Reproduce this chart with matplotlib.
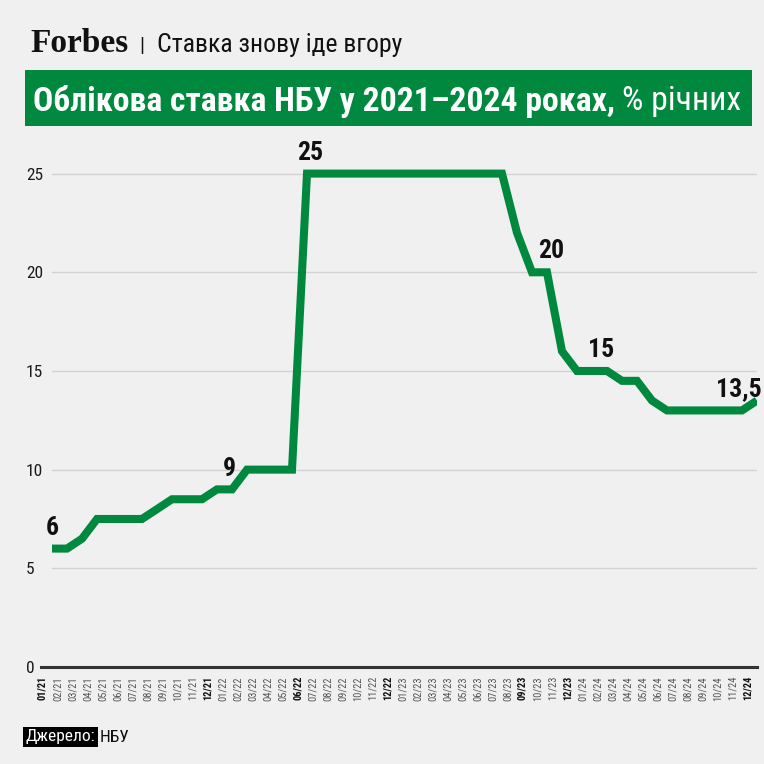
import matplotlib
matplotlib.use("Agg")
import matplotlib.pyplot as plt
import matplotlib.transforms as mtransforms
from matplotlib import font_manager as fm
from matplotlib.patches import Rectangle
import numpy as np

# ---------------- data ----------------
months = ["01/21", "02/21", "03/21", "04/21", "05/21", "06/21", "07/21", "08/21", "09/21", "10/21", "11/21", "12/21",
          "01/22", "02/22", "03/22", "04/22", "05/22", "06/22", "07/22", "08/22", "09/22", "10/22", "11/22", "12/22",
          "01/23", "02/23", "03/23", "04/23", "05/23", "06/23", "07/23", "08/23", "09/23", "10/23", "11/23", "12/23",
          "01/24", "02/24", "03/24", "04/24", "05/24", "06/24", "07/24", "08/24", "09/24", "10/24", "11/24", "12/24"]
rate = [6, 6, 6.5, 7.5, 7.5, 7.5, 7.5, 8, 8.5, 8.5, 8.5, 9,
        9, 10, 10, 10, 10, 25, 25, 25, 25, 25, 25, 25,
        25, 25, 25, 25, 25, 25, 25, 22, 20, 20, 16, 15,
        15, 15, 14.5, 14.5, 13.5, 13, 13, 13, 13, 13, 13, 13.5]
bold_months = ["01/21", "12/21", "06/22", "12/22", "09/23", "12/23", "12/24"]
callout_text = ["6", "9", "25", "20", "15", "13,5"]
callout_month = [0, 11.85, 17.2, 33.3, 36.6, 45.8]
callout_value = [6, 9, 25, 20, 15, 13]
yticks = [0, 5, 10, 15, 20, 25]

# ---------------- fonts ----------------
names = {f.name for f in fm.fontManager.ttflist}
cond = next((n for n in ["Roboto Condensed", "Liberation Sans Narrow", "Roboto", "DejaVu Sans"] if n in names), "DejaVu Sans")
plt.rcParams["font.family"] = [cond, "DejaVu Sans"]
serif = "Liberation Serif" if "Liberation Serif" in names else "DejaVu Serif"

GREEN = "#00893e"
BG = "#f0f0f0"

W = H = 764
fig = plt.figure(figsize=(7.64, 7.64), dpi=100, facecolor=BG)

def fx(px):
    return px / W

def fy(py):
    return 1 - py / H

ax = fig.add_axes([fx(52), fy(667), fx(757) - fx(52), fy(144) - fy(667)])
ax.set_facecolor(BG)
x = np.arange(len(months))
ax.plot(x, rate, color=GREEN, lw=5.8, solid_joinstyle="miter", solid_capstyle="butt", zorder=3)
ax.set_xlim(0, 46.4)
ax.set_ylim(0, 26.5)
for s in ax.spines.values():
    s.set_visible(False)

ax.set_yticks(yticks)
ax.set_yticklabels([str(v) for v in yticks])
ax.tick_params(axis="y", length=0, pad=18.7, labelsize=12.5, labelcolor="#1a1a1a")
for lbl in ax.get_yticklabels():
    lbl.set_horizontalalignment("left")
ax.grid(axis="y", color="#d2d2d2", lw=1)
ax.axhline(0, xmin=-0.016, xmax=1, color="#333333", lw=2.2, clip_on=False, zorder=4)

ax.set_xticks(x)
ax.set_xticklabels(months, rotation=90, va="top", ha="center")
ax.tick_params(axis="x", length=0, pad=6.5, labelsize=7.5)
off = mtransforms.ScaledTranslation(-9.5 / 100, 0, fig.dpi_scale_trans)
for lbl in ax.get_xticklabels():
    lbl.set_transform(lbl.get_transform() + off)
    if lbl.get_text() in bold_months:
        lbl.set_fontweight("bold")
        lbl.set_color("#111111")
    else:
        lbl.set_color("#555555")

for t, m, v in zip(callout_text, callout_month, callout_value):
    ax.annotate(t, (m, v), xytext=(0, 15), textcoords="offset points", ha="center", va="center",
                fontsize=18.5, fontweight="bold", color="#111111", zorder=5)

# ---------------- header ----------------
fig.text(fx(30), fy(43), "Forbes", family=serif, fontweight="bold", fontsize=24, va="center", ha="left", color="#111111")
fig.text(fx(142), fy(46), "|", fontsize=15, va="center", ha="center", color="#111111")
fig.text(fx(157), fy(45), "Ставка знову іде вгору", fontsize=18.5, va="center", ha="left", color="#111111")

fig.patches.append(Rectangle((fx(25), fy(126)), fx(752) - fx(25), fy(70) - fy(126),
                             transform=fig.transFigure, facecolor=GREEN, edgecolor="none"))
t1 = fig.text(fx(33), fy(101), "Облікова ставка НБУ у 2021–2024 роках,", fontsize=24.3, fontweight="bold",
              color="white", va="center", ha="left")
fig.canvas.draw()
bb = t1.get_window_extent()
fig.text(bb.x1 / W + fx(7), fy(101), "% річних", fontsize=24.3, color="white", va="center", ha="left")

# ---------------- footer ----------------
fig.text(fx(26), fy(737), "Джерело:", fontsize=12.5, color="white", va="center", ha="left",
         bbox=dict(boxstyle="square,pad=0.15", facecolor="black", edgecolor="none"))
fig.text(fx(100), fy(737), "НБУ", fontsize=12.5, color="#111111", va="center", ha="left")

fig.savefig("out.png", dpi=100, facecolor=BG)
